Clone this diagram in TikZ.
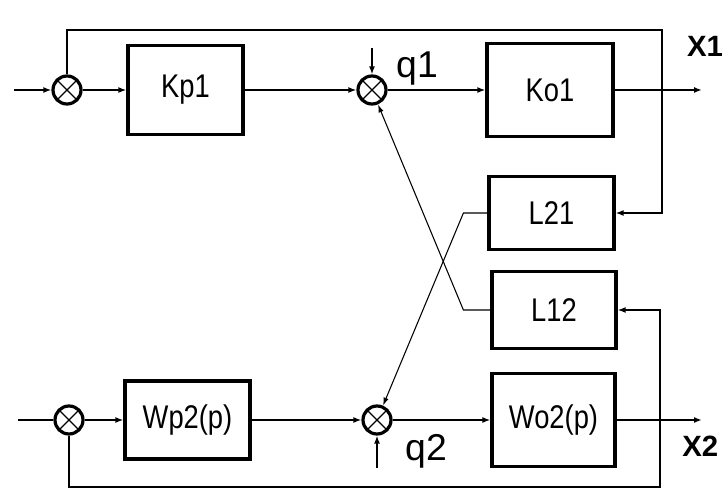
\documentclass[tikz,border=0pt]{standalone}
\usepackage{fontspec}
\setmainfont{Liberation Sans}
\usepackage{graphicx}
\usetikzlibrary{arrows.meta}

\begin{document}
\begin{tikzpicture}[x=0.75pt,y=-0.75pt,
	blok/.style={draw,line width=2.4pt,inner sep=0pt,font=\fontsize{20.5}{24}\selectfont},
	suma/.style={draw,circle,line width=2.4pt,minimum size=21pt,inner sep=0pt,
		path picture={\draw[line width=1pt]
			(path picture bounding box.south west) -- (path picture bounding box.north east)
			(path picture bounding box.north west) -- (path picture bounding box.south east);}},
	enl/.style={line width=1.4pt},
	flecha/.style={enl,-{Latex[length=6pt,width=4.5pt]}},
	cruz/.style={line width=0.8pt,-{Latex[length=6pt,width=4pt]}},
	pert/.style={font=\fontsize{28}{30}\selectfont},
	salida/.style={font=\bfseries\fontsize{22}{24}\selectfont}]
	
	\useasboundingbox (0,0) rectangle (724,491);
	
	% Lazo superior
	\coordinate (in1) at (14,90);
	\node[suma] (s1) at (67,90) {};
	\node[blok,minimum width=86.25pt,minimum height=66.75pt] (kp1) at (185.5,90) {\scalebox{1}[1.2]{Kp1}};
	\node[suma] (s2) at (372,90) {};
	\node[blok,minimum width=94.5pt,minimum height=69.75pt] (ko1) at (550,90) {\scalebox{1}[1.2]{Ko1}};
	\coordinate (b1) at (662,90);
	\coordinate (out1) at (702,90);
	\coordinate (q1in) at (372,48);
	
	% Bloques de acoplamiento
	\node[blok,minimum width=93.75pt,minimum height=54.75pt] (l21) at (551.5,213) {\scalebox{1}[1.2]{L21}};
	\node[blok,minimum width=93pt,minimum height=57.75pt] (l12) at (554,310) {\scalebox{1}[1.2]{L12}};
	
	% Lazo inferior
	\coordinate (in2) at (18,420);
	\node[suma] (s3) at (69,420) {};
	\node[blok,minimum width=93.75pt,minimum height=58.5pt] (wp2) at (187.5,420) {\scalebox{1}[1.2]{Wp2(p)}};
	\node[suma] (s4) at (377,420) {};
	\node[blok,minimum width=92.25pt,minimum height=69.75pt] (wo2) at (553.5,420) {\scalebox{1}[1.2]{Wo2(p)}};
	\coordinate (b2) at (660,420);
	\coordinate (out2) at (702,420);
	\coordinate (q2in) at (377,468);
	
	% Etiquetas
	\node[pert,anchor=base] (q1) at (417,78) {q1};
	\node[pert,anchor=base] (q2) at (426,460) {q2};
	\node[salida,anchor=base] (x1) at (705,57) {X1};
	\node[salida,anchor=base east] (x2) at (723,456) {X2};
	
	% Conexiones superiores
	\draw[flecha] (in1) -- (s1);
	\draw[flecha] (s1) -- (kp1);
	\draw[flecha] (kp1) -- (s2);
	\draw[flecha] (s2) -- (ko1);
	\draw[flecha] (ko1) -- (out1);
	\draw[flecha] (q1in) -- (s2);
	\draw[enl] (b1) -- ++(0,-60) -| (s1.north);
	\draw[flecha] (b1) |- (l21.east);
	\fill (b1) circle (1.8);
	
	% Conexiones inferiores
	\draw[enl] (in2) -- (s3);
	\draw[flecha] (s3) -- (wp2);
	\draw[flecha] (wp2) -- (s4);
	\draw[flecha] (s4) -- (wo2);
	\draw[flecha] (wo2) -- (out2);
	\draw[flecha] (q2in) -- (s4);
	\draw[enl] (b2) -- ++(0,67) -| (s3.south);
	\draw[flecha] (b2) |- (l12.east);
	\fill (b2) circle (1.8);
	
	% Cruce
	\draw[cruz] (l21.west) -- ++(-24,0) -- (s4);
	\draw[cruz] (l12.west) -- ++(-27,0) -- (s2);
	
\end{tikzpicture}
\end{document}
